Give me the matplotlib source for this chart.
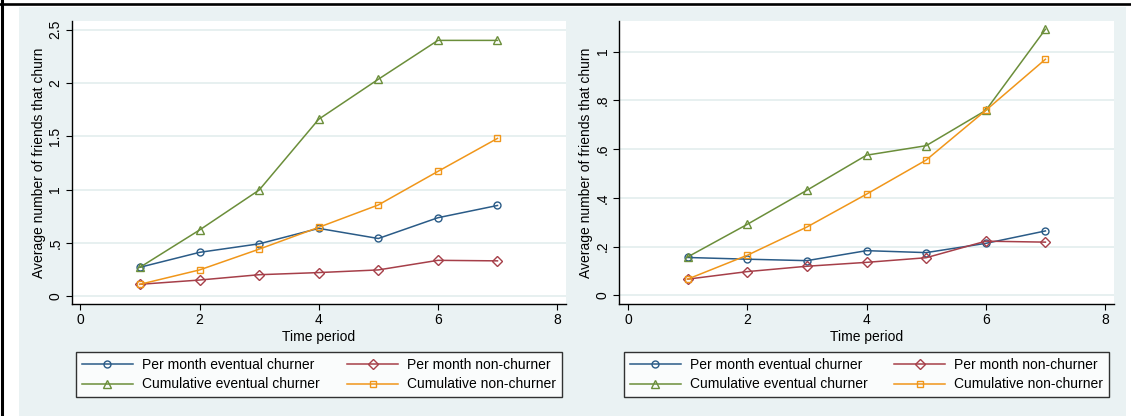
import matplotlib
matplotlib.use("Agg")
import matplotlib.pyplot as plt
from matplotlib.patches import Rectangle
from matplotlib.lines import Line2D

plt.rcParams["font.family"] = ["Liberation Sans", "DejaVu Sans"]

periods = [1, 2, 3, 4, 5, 6, 7]

# left panel
left_month_churner = [0.27, 0.41, 0.49, 0.635, 0.54, 0.735, 0.85]
left_month_non = [0.11, 0.15, 0.20, 0.22, 0.245, 0.335, 0.33]
left_cum_churner = [0.27, 0.62, 0.995, 1.66, 2.035, 2.40, 2.40]
left_cum_non = [0.11, 0.245, 0.44, 0.645, 0.855, 1.17, 1.48]
left_yticks = [0, 0.5, 1, 1.5, 2, 2.5]
left_yticklabels = ["0", ".5", "1", "1.5", "2", "2.5"]

# right panel
right_month_churner = [0.155, 0.148, 0.142, 0.183, 0.175, 0.213, 0.264]
right_month_non = [0.066, 0.097, 0.119, 0.135, 0.154, 0.222, 0.218]
right_cum_churner = [0.157, 0.291, 0.431, 0.575, 0.614, 0.759, 1.092]
right_cum_non = [0.066, 0.164, 0.280, 0.415, 0.555, 0.759, 0.969]
right_yticks = [0, 0.2, 0.4, 0.6, 0.8, 1]
right_yticklabels = ["0", ".2", ".4", ".6", ".8", "1"]

xticks = [0, 2, 4, 6, 8]
series_labels = ["Per month eventual churner", "Cumulative eventual churner",
                 "Per month non-churner", "Cumulative non-churner"]

BG = "#EAF2F3"
GRID = "#E3EDEE"
colors = ["#2A5B87", "#6B8E3A", "#A63F49", "#F0961A"]
markers = ["o", "^", "D", "s"]
msizes = [5, 5.5, 4.6, 4.6]

W, H = 1131, 416
fig = plt.figure(figsize=(W / 100, H / 100), dpi=100, facecolor="white")

# graph region background and outer frame
fig.patches.append(Rectangle((19 / W, 0), (1126 - 19) / W, (H - 7) / H,
                             transform=fig.transFigure, facecolor=BG,
                             edgecolor="none", zorder=-5))
fig.add_artist(Line2D([0, 1], [1 - 3.7 / H, 1 - 3.7 / H], color="black", lw=1.9))
fig.add_artist(Line2D([1.5 / W, 1.5 / W], [0, 1], color="black", lw=2.2))


def draw_panel(rect, series, yticks, yticklabels, ylim, legend_box):
    ax = fig.add_axes(rect)
    ax.set_facecolor("white")
    for vals, c, m, ms, lab in zip(series, colors, markers, msizes, series_labels):
        ax.plot(periods, vals, color=c, lw=1.1, marker=m, ms=ms,
                mfc="none", mec=c, mew=1.0, label=lab)
    ax.set_xlim(-0.15, 8.15)
    ax.set_ylim(*ylim)
    ax.set_xticks(xticks)
    ax.set_yticks(yticks)
    ax.set_yticklabels(yticklabels, rotation=90, va="center")
    ax.tick_params(direction="out", length=4, width=0.8, labelsize=10, pad=2.5)
    for t in yticks:
        ax.axhline(t, color=GRID, lw=1.2, zorder=0)
    for s in ["top", "right"]:
        ax.spines[s].set_visible(False)
    ax.spines["left"].set_linewidth(1.0)
    ax.spines["bottom"].set_linewidth(1.0)
    ax.set_xlabel("Time period", fontsize=10, labelpad=2)
    ax.set_ylabel("Average number of friends that churn", fontsize=10, labelpad=2)
    leg = ax.legend(loc="lower left", bbox_to_anchor=legend_box,
                    bbox_transform=fig.transFigure, mode="expand", ncol=2,
                    numpoints=1, handlelength=3.7, handletextpad=0.65,
                    fontsize=10, frameon=True, fancybox=False,
                    borderaxespad=0, labelspacing=0.4, borderpad=0.4,
                    columnspacing=1.5)
    leg.get_frame().set_edgecolor("black")
    leg.get_frame().set_linewidth(1.0)
    return ax


def frac(x0, y0, x1, y1):
    # pixel box (top-left origin) to figure fraction rect
    return (x0 / W, 1 - y1 / H, (x1 - x0) / W, (y1 - y0) / H)


draw_panel(frac(71.5, 21, 566, 304),
           [left_month_churner, left_cum_churner, left_month_non, left_cum_non],
           left_yticks, left_yticklabels, (-0.075, 2.582),
           frac(76, 350, 562, 397))

draw_panel(frac(619, 21, 1114, 304),
           [right_month_churner, right_cum_churner, right_month_non, right_cum_non],
           right_yticks, right_yticklabels, (-0.036, 1.126),
           frac(624, 350, 1109, 397))

fig.savefig("out.png", dpi=100, facecolor=fig.get_facecolor())
